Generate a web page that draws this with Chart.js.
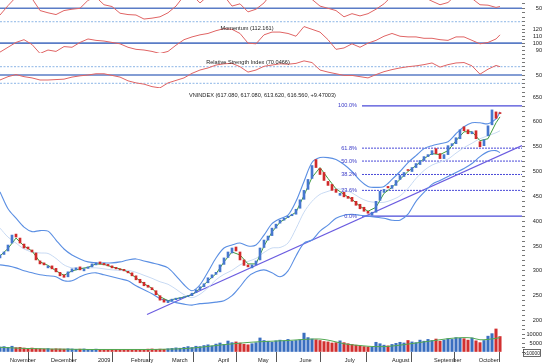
<!DOCTYPE html>
<html>
<head>
<meta charset="utf-8">
<title>VNINDEX</title>
<script src="https://cdn.jsdelivr.net/npm/chart.js@4.4.1/dist/chart.umd.min.js"></script>
<style>
    html, body { margin: 0; padding: 0; background: #fff; }
    #wrap { position: relative; width: 550px; height: 364px; overflow: hidden; background: #fff; }
    #wrap canvas { position: absolute; left: 0; }
</style>
</head>
<body>
<div id="wrap">
    <canvas id="stochChart" width="550" height="24" style="top:0px"></canvas>
    <canvas id="momChart" width="550" height="29" style="top:24px"></canvas>
    <canvas id="rsiChart" width="550" height="35" style="top:53px"></canvas>
    <canvas id="priceChart" width="550" height="236" style="top:88px"></canvas>
    <canvas id="volChart" width="550" height="40" style="top:324px"></canvas>
</div>
<script>
// ---- data (one candle every ~2 trading days, Oct 2008 -> Oct 2009) ----
const closes = [
    332, 338, 352, 372, 368, 356, 346, 344, 338, 322,
    314, 312, 310, 304, 298, 290, 287, 298, 304, 306,
    302, 304, 308, 314, 316, 314, 312, 310, 306, 304,
    302, 300, 296, 290, 282, 276, 270, 267, 262, 252,
    241, 237, 240, 243, 245, 246, 248, 250, 255, 262,
    268, 274, 286, 292, 297, 312, 326, 338, 346, 340,
    322, 311, 308, 312, 320, 346, 362, 370, 386, 394,
    402, 406, 410, 414, 424, 443, 462, 484, 512, 508,
    494, 482, 472, 462, 458, 456, 449, 446, 440, 432,
    425, 420, 416, 418, 440, 460, 464, 467, 472, 482,
    492, 498, 502, 508, 516, 522, 530, 534, 542, 536,
    526, 534, 552, 556, 568, 584, 582, 576, 580, 566,
    550, 564, 592, 624, 607.09, 616.56
];
const opens = [
    326, 333, 340, 356, 374, 366, 354, 348, 342, 336,
    320, 316, 306, 310, 305, 297, 292, 288, 298, 302,
    308, 300, 305, 308, 312, 318, 315, 313, 310, 307,
    304, 303, 299, 296, 290, 283, 277, 271, 266, 260,
    250, 242, 236, 240, 242, 244, 246, 248, 250, 256,
    262, 268, 276, 286, 293, 298, 313, 327, 336, 348,
    338, 322, 312, 306, 312, 322, 347, 362, 371, 386,
    396, 402, 407, 411, 414, 426, 444, 464, 486, 524,
    506, 498, 480, 474, 464, 452, 458, 450, 448, 440,
    434, 428, 420, 412, 418, 442, 458, 470, 466, 472,
    484, 490, 504, 500, 508, 514, 522, 530, 534, 546,
    536, 526, 534, 552, 556, 566, 590, 584, 576, 582,
    560, 552, 572, 594, 620, 617.08
];
const volumes = [
    2800, 3000, 2600, 3200, 2400, 2600, 2200, 2000, 2200, 1900,
    1800, 1700, 1900, 1600, 1800, 1700, 1600, 1800, 1700, 1500,
    1600, 1700, 1400, 1500, 1600, 1300, 1400, 1200, 1500, 1400,
    1300, 1500, 1400, 1200, 1300, 1500, 1400, 1600, 1700, 1500,
    1600, 1500, 1800, 2000, 2300, 2100, 2600, 3000, 2500, 3200,
    3000, 3600, 4000, 3400, 4400, 5000, 4200, 6100, 5200, 5600,
    5000, 4300, 4000, 4600, 5200, 7800, 6400, 6000, 5400, 6200,
    6600, 6200, 7000, 6000, 6400, 6800, 10500, 8000, 7200, 6800,
    6400, 5800, 5600, 5000, 5200, 6200, 5200, 4600, 4200, 3800,
    3400, 3000, 2800, 2600, 5400, 4600, 3800, 3400, 4200, 4800,
    5400, 5000, 6400, 5600, 5200, 6600, 6000, 7000, 6400, 7200,
    6000, 6600, 7400, 7000, 8000, 7600, 7400, 6600, 7800, 6200,
    5200, 6400, 8800, 10200, 12800, 8600
];

// indicator lines, one reading every second candle (last one = last candle)
const bbUpper = [
    459, 425, 406, 388, 379, 381, 380, 362,
    344, 332, 324, 318, 316, 316, 316, 318,
    322, 324, 320, 316, 312, 306, 290, 272,
    260, 272, 298, 326, 346, 352, 356, 350,
    352, 372, 395, 405, 412, 440, 480, 518,
    528, 528, 524, 514, 500, 482, 470, 468,
    470, 484, 500, 518, 532, 546, 552, 556,
    560, 576, 590, 598, 598, 596, 606,
    620
];
const bbMiddle = [
    386, 368, 356, 344, 338, 336, 335, 325,
    312, 306, 306, 306, 306, 304, 302, 301,
    301, 297, 291, 285, 278, 273, 263, 252,
    246, 253, 266, 282, 293, 301, 312, 319,
    325, 337, 346, 347, 356, 385, 418, 440,
    454, 460, 465, 463, 457, 447, 440, 438,
    438, 443, 451, 466, 486, 502, 513, 519,
    525, 537, 548, 557, 566, 572, 578,
    582
];
const bbLower = [
    312, 310, 306, 300, 296, 292, 290, 288,
    280, 280, 288, 294, 296, 292, 288, 284,
    280, 270, 262, 254, 244, 240, 236, 233,
    231, 234, 235, 237, 240, 250, 268, 288,
    298, 302, 296, 288, 300, 330, 356, 362,
    380, 392, 406, 412, 414, 412, 410, 408,
    406, 402, 402, 414, 440, 458, 474, 482,
    490, 498, 506, 516, 530, 540, 542,
    538
];
const ma5 = [
    330, 345, 366, 350, 340, 318, 311, 300,
    291, 300, 304, 307, 314, 313, 308, 304,
    298, 286, 274, 265, 248, 240, 244, 247,
    252, 264, 280, 294, 318, 338, 332, 314,
    314, 350, 378, 398, 408, 418, 452, 488,
    508, 486, 465, 454, 444, 430, 420, 428,
    456, 468, 484, 500, 512, 526, 536, 534,
    542, 562, 580, 580, 562, 566, 598,
    610
];
const stoch = [
    35, 56, 75, 80, 72, 45, 40, 36,
    45, 48, 50, 68, 75, 58, 54, 39,
    36, 35, 26, 28, 31, 40, 55, 78,
    80, 62, 78, 82, 78, 55, 60, 42,
    48, 62, 85, 90, 88, 80, 85, 70,
    55, 50, 45, 31, 38, 33, 38, 48,
    60, 78, 88, 85, 80, 75, 66, 58,
    63, 80, 85, 72, 58, 57, 52,
    54
];
const momentum = [
    87, 94, 101, 105, 98, 85, 90, 88,
    95, 94, 101, 106, 104, 103, 101, 99,
    94, 91, 90, 88, 85, 88, 97, 105,
    109, 112, 114, 118, 121, 120, 114, 100,
    99, 112, 116, 116, 114, 110, 124, 120,
    116, 105, 91, 93, 99, 94, 100, 104,
    110, 114, 110, 109, 109, 107, 107, 105,
    104, 109, 109, 104, 99, 101, 106,
    112
];
const rsi = [
    38, 46, 51, 46, 43, 38, 38, 39,
    40, 45, 48, 50, 53, 53, 49, 45,
    36, 31, 28, 22, 19, 31, 37, 43,
    54, 62, 67, 74, 77, 78, 70, 57,
    62, 71, 74, 77, 76, 78, 84, 80,
    62, 57, 53, 49, 49, 46, 43, 51,
    58, 63, 67, 70, 72, 75, 79, 69,
    75, 79, 80, 72, 52, 64, 73,
    70
];
const volumeMa = [
    2600, 2400, 2200, 2000, 1900, 1800, 1700, 1600,
    1600, 1500, 1500, 1400, 1400, 1400, 1400, 1400,
    1400, 1400, 1400, 1400, 1500, 1600, 1700, 1900,
    2200, 2600, 3100, 3600, 4100, 4500, 4900, 5300,
    5600, 5800, 6000, 6200, 6400, 6700, 7000, 7200,
    7200, 6600, 5600, 4600, 4000, 3600, 3200, 3000,
    3000, 3300, 3800, 4400, 5000, 5600, 6200, 6800,
    7400, 7800, 8000, 7800, 6800, 7000, 7600,
    8000
];

const fibLevels = [410, 462, 494, 521, 547, 632];
const fibLabels = ['0.0%', '23.6%', '38.2%', '50.0%', '61.8%', '100.0%'];
const fibStartIdx = 90.5;
const trendLine = [{ x: 36.75, y: 212 }, { x: 130.5, y: 552 }];

const monthTickIdx = [2, 12.25, 24, 32.25, 42.5, 54, 64, 74.4, 85.7, 97.5, 108, 119.2];
const monthLabels = ['November', 'December', '2009', 'February', 'March', 'April', 'May',
    'June', 'July', 'August', 'September', 'October'];

const priceTickLabels = [200, 250, 300, 350, 400, 450, 500, 550, 600, 650];
const momTickLabels = [90, 100, 110, 120];
const rsiTickLabels = [50];
const stochTickLabels = [50];
const volTickLabels = [5000, 10000];

const titleText = 'VNINDEX (617.080, 617.080, 613.620, 616.560, +9.47003)';
const momText = 'Momentum (112.161)';
const rsiText = 'Relative Strength Index (70.0466)';

// ---- styling ----
const FONT = "'Liberation Sans', Arial, sans-serif";
const X_MAX = 130.5;
const RED_LINE = '#e06464';
const REF_SOLID = '#5a7cc6';
const REF_DOT = '#8db6e6';
const UP = '#4677cf';
const DOWN = '#d12a2a';

function gridPoints(values) {
    return values.map((v, k) => ({ x: Math.min(k * 2, 125), y: v }));
}

function steps(from, to, step) {
    const out = [];
    for (let v = from; v <= to + 1e-9; v += step) out.push(v);
    return out;
}

function refLine(level, dotted, x0) {
    return {
        type: 'line',
        data: [{ x: x0 || 0, y: level }, { x: X_MAX, y: level }],
        borderColor: dotted ? REF_DOT : REF_SOLID,
        borderWidth: dotted ? 1 : 1.6,
        borderDash: dotted ? [2, 1.5] : [],
        pointRadius: 0
    };
}

function redLine(values) {
    return { type: 'line', data: gridPoints(values), borderColor: RED_LINE, borderWidth: 1, pointRadius: 0, tension: 0 };
}

function rightAxis(min, max, tickValues, labels, pad) {
    return {
        position: 'right', min: min, max: max,
        afterFit: function (s) { s.width = 20; s.paddingTop = 0; s.paddingBottom = 0; },
        afterBuildTicks: function (s) { s.ticks = tickValues.map(v => ({ value: v })); },
        grid: { drawOnChartArea: false, tickLength: 3, tickColor: '#777', tickWidth: 1 },
        border: { display: false },
        ticks: {
            autoSkip: false, padding: pad, crossAlign: 'far', color: '#222',
            font: { family: FONT, size: 5.6 },
            callback: function (v) { return labels.indexOf(v) >= 0 ? String(v) : ''; }
        }
    };
}

function hiddenX() {
    return { type: 'linear', min: 0, max: X_MAX, offset: false, display: false };
}

// draws panel captions and fib labels as canvas text
const textPlugin = {
    id: 'panelText',
    afterDraw: function (chart, args, opts) {
        const ctx = chart.ctx;
        ctx.save();
        ctx.textBaseline = 'middle';
        (opts.items || []).forEach(function (t) {
            ctx.font = (t.size || 5.6) + 'px ' + FONT;
            ctx.fillStyle = t.color || '#222';
            ctx.textAlign = t.align || 'left';
            const y = t.value !== undefined ? chart.scales.y.getPixelForValue(t.value) : t.y;
            ctx.fillText(t.text, t.x, y);
        });
        if (opts.box) {
            const b = opts.box;
            ctx.strokeStyle = '#444';
            ctx.lineWidth = 0.8;
            ctx.strokeRect(b.x + 0.5, b.y + 0.5, b.w, b.h);
            ctx.font = '4.8px ' + FONT;
            ctx.fillStyle = '#222';
            ctx.textAlign = 'center';
            ctx.fillText(b.text, b.x + b.w / 2 + 0.5, b.y + b.h / 2 + 0.8);
        }
        ctx.restore();
    }
};

function makeChart(id, datasets, xScale, yScale, textOpts) {
    return new Chart(document.getElementById(id), {
        type: 'bar',
        data: { datasets: datasets },
        options: {
            responsive: false, animation: false, events: [],
            layout: { padding: { left: 0, right: 8, top: 0, bottom: 0 } },
            scales: { x: xScale, y: yScale },
            plugins: { legend: { display: false }, tooltip: { enabled: false }, panelText: textOpts || {} }
        },
        plugins: [textPlugin]
    });
}

// ---- oscillator panels ----
makeChart('stochChart',
    [redLine(stoch), refLine(50, false), refLine(20, true)],
    hiddenX(), rightAxis(14.9, 68.6, steps(20, 60, 10), stochTickLabels, 11));

makeChart('momChart',
    [redLine(momentum), refLine(100, false)],
    hiddenX(), rightAxis(85.7, 127.7, steps(90, 125, 5), momTickLabels, 8),
    { items: [{ text: momText, x: 247, y: 4.5, align: 'center' }] });

makeChart('rsiChart',
    [redLine(rsi), refLine(70, true), refLine(50, false), refLine(30, true)],
    hiddenX(), rightAxis(18.7, 103, steps(20, 100, 10), rsiTickLabels, 11),
    { items: [{ text: rsiText, x: 248, y: 9, align: 'center' }] });

// ---- price panel ----
const candleData = closes.map((c, i) => ({ x: i, y: [opens[i], c] }));
const candleColors = closes.map((c, i) => c >= opens[i] ? UP : DOWN);

const priceSets = [
    { type: 'bar', data: candleData, backgroundColor: candleColors, barThickness: 2, minBarLength: 1 },
    { type: 'line', data: gridPoints(ma5), borderColor: '#3f9b3f', borderWidth: 1, pointRadius: 0 },
    { type: 'line', data: gridPoints(bbUpper), borderColor: '#5b8fe3', borderWidth: 1.1, pointRadius: 0, tension: 0.3 },
    { type: 'line', data: gridPoints(bbLower), borderColor: '#5b8fe3', borderWidth: 1.1, pointRadius: 0, tension: 0.3 },
    { type: 'line', data: gridPoints(bbMiddle), borderColor: '#c8daf3', borderWidth: 1, pointRadius: 0, tension: 0.3 },
    { type: 'line', data: trendLine, borderColor: '#6b5ce0', borderWidth: 1.2, pointRadius: 0 }
];
fibLevels.forEach(function (lv, k) {
    const solid = k === 0 || k === fibLevels.length - 1;
    priceSets.push({
        type: 'line', data: [{ x: fibStartIdx, y: lv }, { x: X_MAX, y: lv }],
        borderColor: '#4a4ad8', borderWidth: solid ? 1.2 : 1, borderDash: solid ? [] : [2, 1], pointRadius: 0
    });
});

const priceText = [{ text: titleText, x: 189, y: 7 }];
fibLevels.forEach(function (lv, k) {
    priceText.push({ text: fibLabels[k], x: 357, value: lv, align: 'right', color: '#3c3cc8' });
});

makeChart('priceChart', priceSets, hiddenX(),
    rightAxis(193, 668.1, steps(200, 660, 10), priceTickLabels, 8),
    { items: priceText });

// ---- volume panel with the month axis ----
const volColors = closes.map((c, i) => c >= opens[i] ? '#3a6fc0' : '#d23030');

makeChart('volChart', [
    { type: 'line', data: gridPoints(volumeMa), borderColor: '#52a852', borderWidth: 1, pointRadius: 0, tension: 0.3 },
    { type: 'bar', data: volumes.map((v, i) => ({ x: i, y: v })), backgroundColor: volColors, barThickness: 2.4 }
], {
    type: 'linear', min: 0, max: X_MAX, offset: false,
    afterFit: function (s) { s.height = 12; s.paddingLeft = 0; s.paddingRight = 0; },
    afterBuildTicks: function (s) { s.ticks = monthTickIdx.map(v => ({ value: v })); },
    grid: { drawOnChartArea: false, tickLength: 10, tickColor: '#555', tickWidth: 1 },
    border: { display: false },
    ticks: {
        autoSkip: false, maxRotation: 0, align: 'start', labelOffset: 2, padding: -5, color: '#222',
        font: { family: FONT, size: 5.6 },
        callback: function (v, i) { return monthLabels[i]; }
    }
}, rightAxis(0, 15556, steps(0, 15000, 2500), volTickLabels, 2),
    { box: { x: 523, y: 25, w: 17, h: 7, text: 'x10000' } });
</script>
</body>
</html>
